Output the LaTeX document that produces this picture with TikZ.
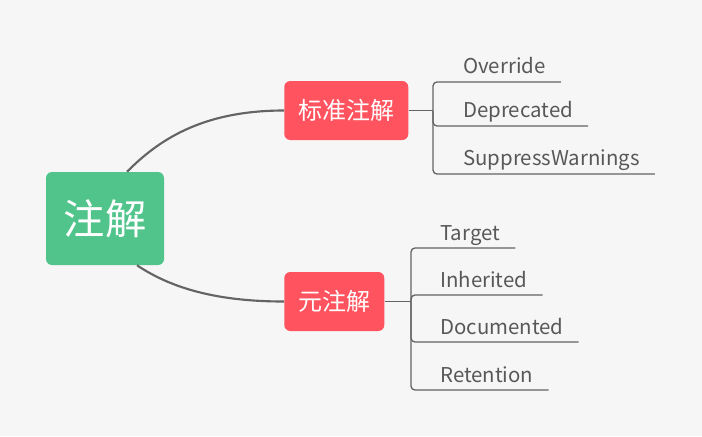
\documentclass[tikz,border=0pt]{standalone}
\usepackage{fontspec}
\setmainfont{Noto Sans CJK SC}
\usepackage{tikz}
\definecolor{mintGreen}{RGB}{80,196,139}
\definecolor{coral}{RGB}{255,84,95}
\definecolor{lineGray}{RGB}{100,100,100}
\definecolor{textGray}{RGB}{88,88,88}
\definecolor{paper}{RGB}{246,246,246}
\tikzstyle{seaGreen} = [rectangle, rounded corners=4.5pt, minimum width=88.5pt, minimum height=69.75pt, text centered, fill=mintGreen, text=white, font=\fontsize{31}{31}\selectfont]
\tikzstyle{coralRed} = [rectangle, rounded corners=4.5pt, inner xsep=10.5pt, minimum height=44.25pt, text centered, fill=coral, text=white, font=\fontsize{18}{18}\selectfont]
\tikzstyle{leaf} = [inner sep=0pt, anchor=base west, text=textGray, font=\fontsize{15.3}{15.3}\selectfont]
\tikzstyle{curve} = [line width=1.6pt, draw=lineGray]
\tikzstyle{branch} = [line width=1pt, draw=lineGray, rounded corners=3pt]
\begin{document}
\begin{tikzpicture}[x=0.75pt, y=-0.75pt]
\fill[paper] (0,0) rectangle (702,436);
\useasboundingbox (0,0) rectangle (702,436);

% Root
\node (anno) [seaGreen] at (105,218.5) {注解};

% Column 2 - the two groups
\node (stdANNO) [coralRed, anchor=west] at (284,110.5) {标准注解};
\node (metaANNO) [coralRed, anchor=west] at (284,301.5) {元注解};

% Column 3 - standard annotations
\node (override) [leaf] at (463,73) {Override};
\node (deprecated) [leaf] at (463,117) {Deprecated};
\node (suppressW) [leaf] at (463,165) {SuppressWarnings};

% Column 3 - meta annotations
\node (target) [leaf] at (440,240) {Target};
\node (inherited) [leaf] at (440,287) {Inherited};
\node (documented) [leaf] at (440,334) {Documented};
\node (retention) [leaf] at (440,382) {Retention};

% Junctions of the brackets
\coordinate (stdJOIN) at (433,110.5);
\coordinate (metaJOIN) at (411,301.5);

% Root - curves
\draw [curve] ([xshift=16.5pt]anno.north) .. controls +(30,-30) and +(-84,0) .. (stdANNO.west);
\draw [curve] ([xshift=24pt]anno.south) .. controls +(30,20) and +(-74,0) .. (metaANNO.west);

% Column 3 - brackets
\draw [branch] (stdANNO.east) -- (stdJOIN);
\draw [branch] (stdJOIN) |- ([shift={(15,9)}]override.base east);
\draw [branch] (stdJOIN) |- ([shift={(15,9)}]deprecated.base east);
\draw [branch] (stdJOIN) |- ([shift={(15,9)}]suppressW.base east);

\draw [branch] (metaANNO.east) -- (metaJOIN);
\draw [branch] (metaJOIN) |- ([shift={(15,8)}]target.base east);
\draw [branch] (metaJOIN) |- ([shift={(15,8)}]inherited.base east);
\draw [branch] (metaJOIN) |- ([shift={(15,8)}]documented.base east);
\draw [branch] (metaJOIN) |- ([shift={(15,8)}]retention.base east);

\end{tikzpicture}
\end{document}
